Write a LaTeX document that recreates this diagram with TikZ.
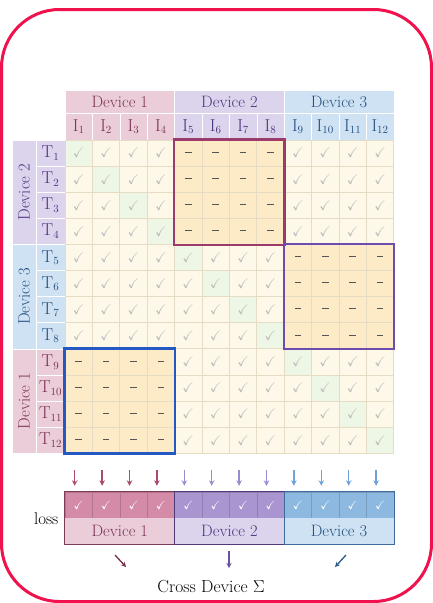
\documentclass[tikz,border=0pt]{standalone}
\usepackage{amsmath,amssymb}
\usepackage{xcolor}
\usepackage{tikz}
\usetikzlibrary{arrows.meta,positioning,calc}

\definecolor{framered}{HTML}{F0124C}
\definecolor{dfill1}{HTML}{EACDD9}\definecolor{dtxt1}{HTML}{7E3257}
\definecolor{dstrong1}{HTML}{D48BA8}\definecolor{dline1}{HTML}{7A3A58}
\definecolor{darrow1}{HTML}{A84A72}\definecolor{dsum1}{HTML}{7A2F50}
\definecolor{dfill2}{HTML}{DCD3EC}\definecolor{dtxt2}{HTML}{4F3580}
\definecolor{dstrong2}{HTML}{A995CF}\definecolor{dline2}{HTML}{4E3A78}
\definecolor{darrow2}{HTML}{9C8AD0}\definecolor{dsum2}{HTML}{6A50A0}
\definecolor{dfill3}{HTML}{CFE2F4}\definecolor{dtxt3}{HTML}{24507F}
\definecolor{dstrong3}{HTML}{8DB8E0}\definecolor{dline3}{HTML}{3D6A9A}
\definecolor{darrow3}{HTML}{6EA2DA}\definecolor{dsum3}{HTML}{2D5B8C}
\definecolor{cellfill}{HTML}{FEF8E9}
\definecolor{posfill}{HTML}{EEF7E6}
\definecolor{maskfill}{HTML}{FDEAC6}
\definecolor{gridline}{HTML}{E6DCC6}
\definecolor{tickgray}{HTML}{BDBDBD}
\definecolor{dashgray}{HTML}{555555}
\definecolor{maskA}{HTML}{9B3A6B}
\definecolor{maskB}{HTML}{6E4CAD}
\definecolor{maskC}{HTML}{2458C2}

\newcommand{\tick}{\textcolor{tickgray}{$\checkmark$}}
\newcommand{\nomatch}{\textcolor{dashgray}{\rule[0.25ex]{6.5pt}{0.9pt}}}

\begin{document}
\begin{tikzpicture}[x=1pt,y=-1pt,>=Stealth,
  cell/.style={draw=gridline,line width=0.8pt,minimum width=27.4pt,minimum height=26.1pt,
    inner sep=0pt,font=\fontsize{14}{14}\selectfont},
  hdr/.style={draw=white,line width=0.6pt,inner sep=0pt,font=\fontsize{16.5}{18}\selectfont},
  lab/.style={draw=white,line width=0.6pt,inner sep=0pt,font=\fontsize{16}{18}\selectfont},
  lcell/.style={line width=0.4pt,minimum width=27.4pt,minimum height=26pt,inner sep=0pt,
    font=\fontsize{12}{12}\selectfont},
  mask/.style={line width=2.4pt},
  sumarrow/.style={line width=1.3pt,-{Stealth[length=5pt,width=5pt]}}]
\useasboundingbox (0,0) rectangle (433,603);
\draw[framered,line width=3pt,rounded corners=58pt] (1.5,9.5) rectangle (431.5,601.5);

% column headers
\foreach \d in {1,2,3}
  \node[hdr,fill=dfill\d,text=dtxt\d,minimum width=109.6pt,minimum height=23pt]
    (top\d) at ({65+(\d-0.5)*109.6},101.5) {Device \d};
\foreach \c in {1,...,12}{
  \pgfmathtruncatemacro{\cd}{div(\c-1,4)+1}
  \node[lab,fill=dfill\cd,text=dtxt\cd,minimum width=27.4pt,minimum height=27pt]
    (i\c) at ({65+(\c-0.5)*27.4},126.5) {$\mathrm{I}_{\c}$};
}

% row headers
\foreach \g/\d in {0/2,1/3,2/1}
  \node[hdr,fill=dfill\d,text=dtxt\d,rotate=90,minimum width=104.4pt,minimum height=24pt]
    (side\d) at (24,{140+(\g+0.5)*104.4}) {Device \d};
\foreach \r in {1,...,12}{
  \pgfmathtruncatemacro{\rd}{mod(div(\r-1,4)+1,3)+1}
  \node[lab,fill=dfill\rd,text=dtxt\rd,minimum width=29pt,minimum height=26.1pt]
    (t\r) at (50.5,{140+(\r-0.5)*26.1}) {$\mathrm{T}_{\r}$};
}

% similarity grid
\foreach \r in {1,...,12}{
  \foreach \c in {1,...,12}{
    \pgfmathtruncatemacro{\rg}{mod(div(\r-1,4)+1,3)}
    \pgfmathtruncatemacro{\cg}{div(\c-1,4)}
    \ifnum\rg=\cg
      \node[cell,fill=maskfill] (g-\r-\c) at ({65+(\c-0.5)*27.4},{140+(\r-0.5)*26.1}) {\nomatch};
    \else
      \ifnum\r=\c\def\cfill{posfill}\else\def\cfill{cellfill}\fi
      \node[cell,fill=\cfill] (g-\r-\c) at ({65+(\c-0.5)*27.4},{140+(\r-0.5)*26.1}) {\tick};
    \fi
  }
}
\draw[mask,maskA] (g-1-5.north west) rectangle (g-4-8.south east);
\draw[mask,maskB] (g-5-9.north west) rectangle (g-8-12.south east);
\draw[mask,maskC] (g-9-1.north west) rectangle (g-12-4.south east);

% loss bar
\foreach \c in {1,...,12}{
  \pgfmathtruncatemacro{\cd}{div(\c-1,4)+1}
  \node[lcell,fill=dstrong\cd,draw=dstrong\cd!85!black] (l\c) at ({65+(\c-0.5)*27.4},505)
    {\textcolor{white}{$\checkmark$}};
  \coordinate (a\c) at ({61+(\c-0.5)*27.4},470);
  \draw[line width=1.3pt,darrow\cd,-{Stealth[length=5.5pt,width=5.5pt]},shorten >=6pt]
    (a\c) -- (a\c |- l\c.north);
}
\foreach \d in {1,2,3}{
  \pgfmathtruncatemacro{\first}{4*\d-3}
  \node[hdr,draw=none,fill=dfill\d,text=dtxt\d,minimum width=109.6pt,minimum height=26pt]
    (d\d) at ({65+(\d-0.5)*109.6},531) {Device \d};
  \draw[dline\d,line width=1pt] (l\first.north west) rectangle (d\d.south east);
}
\node[font=\fontsize{17}{18}\selectfont,left=3pt of l1.south west] (loss) {loss};

% cross device sum
\node[font=\fontsize{17.5}{20}\selectfont] (sum) at (211,587) {Cross Device $\Sigma$};
\coordinate (s1) at (115,555); \coordinate (e1) at (126,567);
\coordinate (s2) at (229,551); \coordinate (e2) at (229,568);
\coordinate (s3) at (346,555); \coordinate (e3) at (335,567);
\foreach \d in {1,2,3}
  \draw[sumarrow,dsum\d] (s\d) -- (e\d);
\end{tikzpicture}
\end{document}
